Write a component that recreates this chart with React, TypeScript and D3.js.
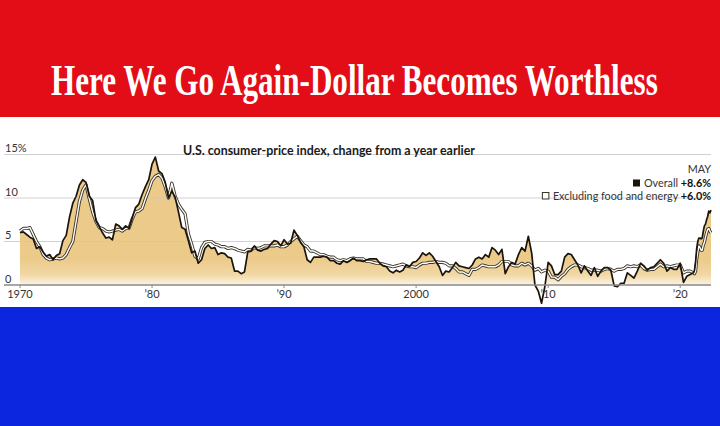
import React, { useLayoutEffect, useRef, useState } from "react";
import * as d3 from "d3";

// ---- Data (CPI change from a year earlier, %) ----
// Quarterly readings (Jan, Apr, Jul, Oct) 1970–2020
const quarterYears: number[] = d3.range(1970, 2021);
const quarterMonths: number[] = [0, 3, 6, 9];
const overallQuarterly: number[] = [
  6.0, 6.1, 5.8, 5.5,
  5.3, 4.2, 4.4, 3.8,
  3.3, 3.5, 2.9, 3.4,
  3.6, 5.1, 5.7, 7.8,
  9.4, 10.2, 11.5, 12.1,
  11.8, 10.2, 9.7, 7.4,
  6.7, 6.0, 5.4, 5.5,
  5.2, 7.0, 6.8, 6.4,
  6.8, 6.5, 7.7, 8.9,
  9.3, 10.4, 11.3, 12.1,
  13.9, 14.7, 13.1, 12.8,
  11.8, 10.0, 10.8, 10.1,
  8.4, 6.6, 6.4, 5.1,
  3.7, 3.9, 2.5, 2.9,
  4.2, 4.6, 4.2, 4.3,
  3.5, 3.7, 3.6, 3.2,
  3.1, 1.6, 1.6, 1.3,
  1.5, 3.8, 3.9, 4.5,
  4.0, 3.9, 4.1, 4.2,
  4.7, 5.1, 5.0, 4.5,
  5.2, 4.7, 4.8, 6.3,
  5.7, 4.9, 4.4, 2.9,
  2.6, 3.2, 3.2, 3.2,
  3.3, 3.2, 2.8, 2.8,
  2.5, 2.4, 2.8, 2.6,
  2.8, 3.1, 2.8, 2.8,
  2.7, 2.9, 3.0, 3.0,
  3.0, 2.5, 2.2, 2.1,
  1.6, 1.4, 1.7, 1.5,
  1.7, 2.3, 2.1, 2.6,
  2.7, 3.1, 3.7, 3.4,
  3.7, 3.3, 2.7, 2.1,
  1.1, 1.6, 1.5, 2.0,
  2.6, 2.2, 2.1, 2.0,
  1.9, 2.3, 3.0, 3.2,
  3.0, 3.5, 3.2, 4.3,
  4.0, 3.5, 4.1, 1.3,
  2.1, 2.6, 2.4, 3.5,
  4.3, 3.9, 5.6, 3.7,
  0.0, -0.7, -2.1, -0.2,
  2.6, 2.2, 1.2, 1.2,
  1.6, 3.2, 3.6, 3.5,
  2.9, 2.3, 1.4, 2.2,
  1.6, 1.1, 2.0, 1.0,
  1.6, 2.0, 2.0, 1.7,
  -0.1, -0.2, 0.2, 0.2,
  1.4, 1.1, 0.8, 1.6,
  2.5, 2.2, 1.7, 2.0,
  2.1, 2.5, 2.9, 2.5,
  1.6, 2.0, 1.8, 1.8,
  2.5, 0.3, 1.0, 1.2,
];
const coreQuarterly: number[] = [
  6.2, 6.5, 6.5, 6.6,
  5.8, 5.0, 4.4, 3.5,
  3.1, 2.9, 3.0, 3.1,
  3.0, 3.1, 3.5, 4.3,
  5.0, 7.3, 9.6, 10.9,
  11.5, 9.9, 8.4, 7.3,
  6.6, 6.5, 6.2, 6.1,
  6.2, 6.3, 6.4, 6.2,
  6.5, 6.5, 7.6, 8.4,
  8.5, 8.8, 9.9, 10.9,
  12.0, 12.5, 12.7, 12.3,
  11.3, 10.0, 11.7, 10.2,
  9.3, 8.7, 8.2, 5.9,
  4.7, 3.3, 3.0, 4.3,
  4.9, 5.0, 5.0, 4.7,
  4.6, 4.4, 4.4, 4.2,
  4.3, 4.2, 4.0, 3.9,
  3.8, 4.1, 4.0, 4.3,
  4.2, 4.3, 4.5, 4.5,
  4.5, 4.5, 4.6, 4.4,
  4.4, 4.6, 5.0, 5.3,
  5.6, 5.1, 4.6, 4.4,
  3.9, 3.9, 3.7, 3.5,
  3.5, 3.3, 3.2, 3.2,
  2.9, 2.8, 2.9, 2.8,
  3.0, 3.1, 3.0, 3.0,
  3.0, 2.7, 2.7, 2.6,
  2.5, 2.5, 2.4, 2.3,
  2.2, 2.1, 2.2, 2.3,
  2.4, 2.2, 2.1, 2.1,
  2.0, 2.3, 2.5, 2.5,
  2.6, 2.6, 2.7, 2.6,
  2.6, 2.5, 2.2, 2.2,
  1.9, 1.5, 1.5, 1.3,
  1.1, 1.8, 1.8, 2.0,
  2.3, 2.2, 2.1, 2.1,
  2.1, 2.3, 2.7, 2.7,
  2.7, 2.3, 2.2, 2.2,
  2.5, 2.3, 2.5, 2.2,
  1.7, 1.9, 1.5, 1.7,
  1.6, 0.9, 0.9, 0.6,
  1.0, 1.3, 1.8, 2.1,
  2.3, 2.3, 2.1, 2.0,
  1.9, 1.7, 1.7, 1.7,
  1.6, 1.8, 1.9, 1.8,
  1.6, 1.8, 1.8, 1.9,
  2.2, 2.1, 2.2, 2.1,
  2.3, 1.9, 1.7, 1.8,
  1.8, 2.1, 2.4, 2.1,
  2.2, 2.1, 2.2, 2.3,
  2.3, 1.4, 1.6, 1.6,
];
// Monthly readings Jan 2021 – May 2022
const recentMonths: string[] = [
  "2021-01", "2021-02", "2021-03", "2021-04", "2021-05", "2021-06",
  "2021-07", "2021-08", "2021-09", "2021-10", "2021-11", "2021-12",
  "2022-01", "2022-02", "2022-03", "2022-04", "2022-05",
];
const overallRecent: number[] = [1.4, 1.7, 2.6, 4.2, 5.0, 5.4, 5.4, 5.3, 5.4, 6.2, 6.8, 7.0, 7.5, 7.9, 8.5, 8.3, 8.6];
const coreRecent: number[] = [1.4, 1.3, 1.6, 3.0, 3.8, 4.5, 4.3, 4.0, 4.0, 4.6, 4.9, 5.5, 6.0, 6.4, 6.5, 6.2, 6.0];

const yTicks: number[] = [0, 5, 10, 15];
const yTickLabels: string[] = ["0", "5", "10", "15%"];
const xTicks: number[] = [1970, 1980, 1990, 2000, 2010, 2020];
const xTickLabels: string[] = ["1970", "\u201980", "\u201990", "2000", "\u201910", "\u201920"];

const TITLE = "Here We Go Again-Dollar Becomes Worthless";
const SUBTITLE = "U.S. consumer-price index, change from a year earlier";
const LEGEND_MONTH = "MAY";
const LEGEND_OVERALL = ["Overall ", "+8.6%"];
const LEGEND_CORE = ["Excluding food and energy ", "+6.0%"];

type Pt = { t: number; v: number };

function buildSeries(q: number[], recent: number[]): Pt[] {
  const pts: Pt[] = [];
  quarterYears.forEach((yr, i) => {
    quarterMonths.forEach((m, j) => {
      pts.push({ t: yr + m / 12, v: q[i * 4 + j] });
    });
  });
  recentMonths.forEach((s, i) => {
    const [y, m] = s.split("-").map(Number);
    pts.push({ t: y + (m - 1) / 12, v: recent[i] });
  });
  return pts;
}

const overall = buildSeries(overallQuarterly, overallRecent);
const core = buildSeries(coreQuarterly, coreRecent);

const W = 720;
const H = 426;
const FONT = "Lato, 'Open Sans', sans-serif";
const TITLE_X = 51;
const TITLE_W = 607;

export default function App() {
  const titleRef = useRef<SVGTextElement>(null);
  const ovRef = useRef<SVGTextElement>(null);
  const coRef = useRef<SVGTextElement>(null);
  const [titleScale, setTitleScale] = useState(1);
  const [ovX, setOvX] = useState(647);
  const [coX, setCoX] = useState(557);

  useLayoutEffect(() => {
    if (titleRef.current) {
      const len = titleRef.current.getComputedTextLength();
      if (len > 0) setTitleScale(TITLE_W / len);
    }
    if (ovRef.current) setOvX(ovRef.current.getBBox().x);
    if (coRef.current) setCoX(coRef.current.getBBox().x);
  }, []);

  const x = d3.scaleLinear().domain([1970, 2022 + 4 / 12]).range([20, 711]);
  const y = d3.scaleLinear().domain([0, 15]).range([285, 154.5]);

  const area = d3
    .area<Pt>()
    .x((d) => x(d.t))
    .y0(y(0))
    .y1((d) => y(d.v));
  const line = d3
    .line<Pt>()
    .x((d) => x(d.t))
    .y((d) => y(d.v));

  return (
    <svg
      width={W}
      height={H}
      viewBox={`0 0 ${W} ${H}`}
      style={{ position: "absolute", left: 0, top: 0, display: "block" }}
    >
      <defs>
        <linearGradient id="fillGrad" gradientUnits="userSpaceOnUse" x1="0" x2="0" y1={y(3)} y2={y(-0.2)}>
          <stop offset="0" stopColor="#ecca8a" />
          <stop offset="0.55" stopColor="#f1d7a3" />
          <stop offset="1" stopColor="#fdf8ef" />
        </linearGradient>
      </defs>
      {/* bands */}
      <rect x={0} y={0} width={W} height={117} fill="#e20d17" />
      <rect x={0} y={117} width={W} height={190} fill="#ffffff" />
      <rect x={0} y={307} width={W} height={H - 307} fill="#0c26e0" />

      {/* title */}
      <g transform={`translate(${TITLE_X},95) scale(${titleScale},1)`}>
        <text
          ref={titleRef}
          x={0}
          y={0}
          fill="#ffffff"
          fontFamily="'Liberation Serif', 'DejaVu Serif', serif"
          fontWeight="bold"
          fontSize={45}
        >
          {TITLE}
        </text>
      </g>

      {/* area */}
      <path d={area(overall) || ""} fill="url(#fillGrad)" />

      {/* gridlines */}
      {yTicks
        .filter((t) => t > 0)
        .map((t) => (
          <line key={t} x1={4} x2={711} y1={y(t)} y2={y(t)} stroke="#c9c9c9" strokeWidth={1} strokeOpacity={0.85} />
        ))}
      {/* y labels */}
      {yTicks.map((t, i) => (
        <text key={t} x={5} y={y(t) - 2.5} fontFamily={FONT} fontSize={11} fill="#333">
          {yTickLabels[i]}
        </text>
      ))}

      {/* core line: dark outline + white inner */}
      <path d={line(core) || ""} fill="none" stroke="#3b3426" strokeWidth={3.2} strokeLinejoin="round" />
      <path d={line(core) || ""} fill="none" stroke="#ffffff" strokeWidth={1.4} strokeLinejoin="round" />

      {/* overall line */}
      <path d={line(overall) || ""} fill="none" stroke="#1a140c" strokeWidth={1.7} strokeLinejoin="round" />

      {/* baseline axis */}
      <line x1={4} x2={711} y1={y(0)} y2={y(0)} stroke="#8a8a8a" strokeWidth={1.5} />
      {xTicks.map((t, i) => (
        <g key={t}>
          <line x1={x(t)} x2={x(t)} y1={y(0)} y2={y(0) + 3} stroke="#8a8a8a" strokeWidth={1} />
          <text x={x(t)} y={298} textAnchor="middle" fontFamily={FONT} fontSize={11} fill="#333">
            {xTickLabels[i]}
          </text>
        </g>
      ))}

      {/* subtitle */}
      <text x={183} y={155} fontFamily={FONT} fontWeight="bold" fontSize={12.5} fill="#1a1a1a" textLength={292} lengthAdjust="spacingAndGlyphs">
        {SUBTITLE}
      </text>

      {/* legend */}
      <text x={711} y={173} textAnchor="end" fontFamily={FONT} fontSize={10.8} fill="#333">
        {LEGEND_MONTH}
      </text>
      <text ref={ovRef} x={711} y={187} textAnchor="end" fontFamily={FONT} fontSize={10.8} fill="#333">
        {LEGEND_OVERALL[0]}
        <tspan fontWeight="bold" fill="#111">{LEGEND_OVERALL[1]}</tspan>
      </text>
      <text ref={coRef} x={711} y={200} textAnchor="end" fontFamily={FONT} fontSize={10.8} fill="#333">
        {LEGEND_CORE[0]}
        <tspan fontWeight="bold" fill="#111">{LEGEND_CORE[1]}</tspan>
      </text>
      <rect x={ovX - 11} y={179.5} width={7} height={7} fill="#1a140c" />
      <rect x={coX - 10.5} y={192.5} width={6.5} height={6.5} fill="#fff" stroke="#3b3426" strokeWidth={1} />
    </svg>
  );
}
